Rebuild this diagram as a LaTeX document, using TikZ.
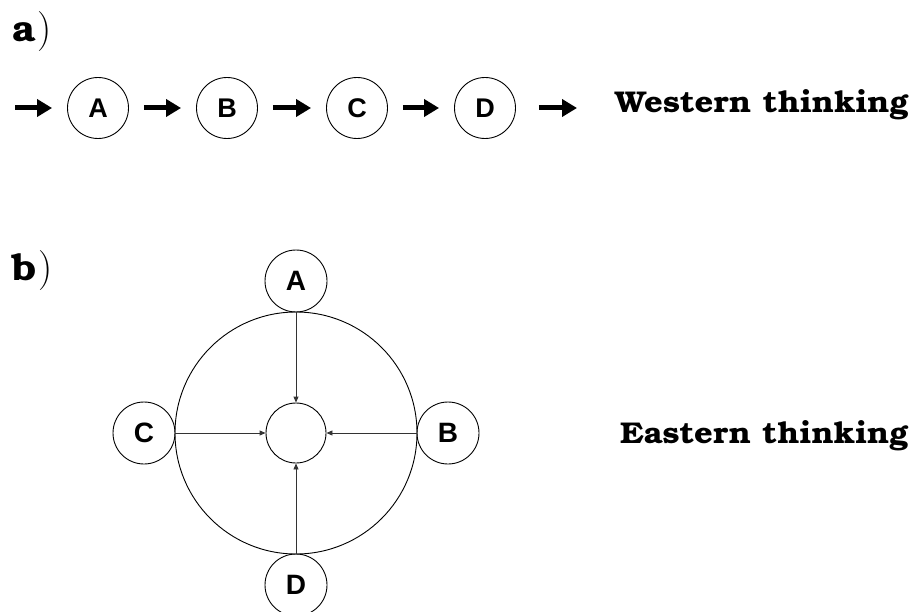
\documentclass[tikz,border=0pt]{standalone}
\usepackage{fontspec}
\setmainfont{Latin Modern Roman}
\newfontfamily\bookman{TeX Gyre Bonum}[FakeStretch=1.09]
\newfontfamily\arial{Liberation Sans}
\usetikzlibrary{arrows.meta}
\tikzset{
  letter/.style={circle, draw, line width=0.9pt, minimum size=61pt, inner sep=0pt, font=\arial\bfseries\fontsize{27}{31}\selectfont},
  bletter/.style={letter, minimum size=62pt, font=\arial\bfseries\fontsize{28}{32}\selectfont},
  blockarrow/.style={line width=5pt, -{Triangle[length=15pt,width=17pt]}},
  thinarrow/.style={line width=0.9pt, draw=black!80, -{Triangle[length=6pt,width=5pt]}},
  title/.style={anchor=base west, inner sep=0pt, font=\bookman\bfseries\fontsize{30}{35}\selectfont},
  partlabel/.style={anchor=base west, inner sep=0pt, font=\bookman\bfseries\fontsize{37}{42}\selectfont}
}
\begin{document}
\begin{tikzpicture}[x=1pt,y=-1pt]
\useasboundingbox (0,0) rectangle (909,612);
% part a
\node[partlabel] (la) at (12,42) {a\hspace{2pt}{\mdseries\rmfamily\fontsize{40}{44}\selectfont)}};
\node[letter] (A1) at (98,108) {A};
\node[letter] (B1) at (227,108) {B};
\node[letter] (C1) at (357,108) {C};
\node[letter] (D1) at (485,108) {D};
\coordinate (s0) at (15,108);
\coordinate (e0) at (577,108);
\draw[blockarrow, shorten >=15pt] (s0) -- (A1);
\draw[blockarrow, shorten <=15pt, shorten >=15pt] (A1) -- (B1);
\draw[blockarrow, shorten <=15pt, shorten >=15pt] (B1) -- (C1);
\draw[blockarrow, shorten <=15pt, shorten >=15pt] (C1) -- (D1);
\draw[blockarrow, shorten <=23pt] (D1) -- (e0);
\node[title] (west) at (615,113) {Western thinking};
% part b
\node[partlabel] (lb) at (12,280) {b\hspace{2pt}{\mdseries\rmfamily\fontsize{40}{44}\selectfont)}};
\node[circle, draw, line width=0.9pt, minimum size=242pt, inner sep=0pt] (big) at (296,433) {};
\node[letter, minimum size=60pt] (M) at (296,433) {};
\node[bletter] (A2) at (296,281) {A};
\node[bletter] (B2) at (448,433) {B};
\node[bletter] (C2) at (144,433) {C};
\node[bletter] (D2) at (296,585) {D};
\draw[thinarrow] (A2) -- (M);
\draw[thinarrow] (B2) -- (M);
\draw[thinarrow] (C2) -- (M);
\draw[thinarrow] (D2) -- (M);
\node[title] (east) at (620,443) {Eastern thinking};
\end{tikzpicture}
\end{document}
